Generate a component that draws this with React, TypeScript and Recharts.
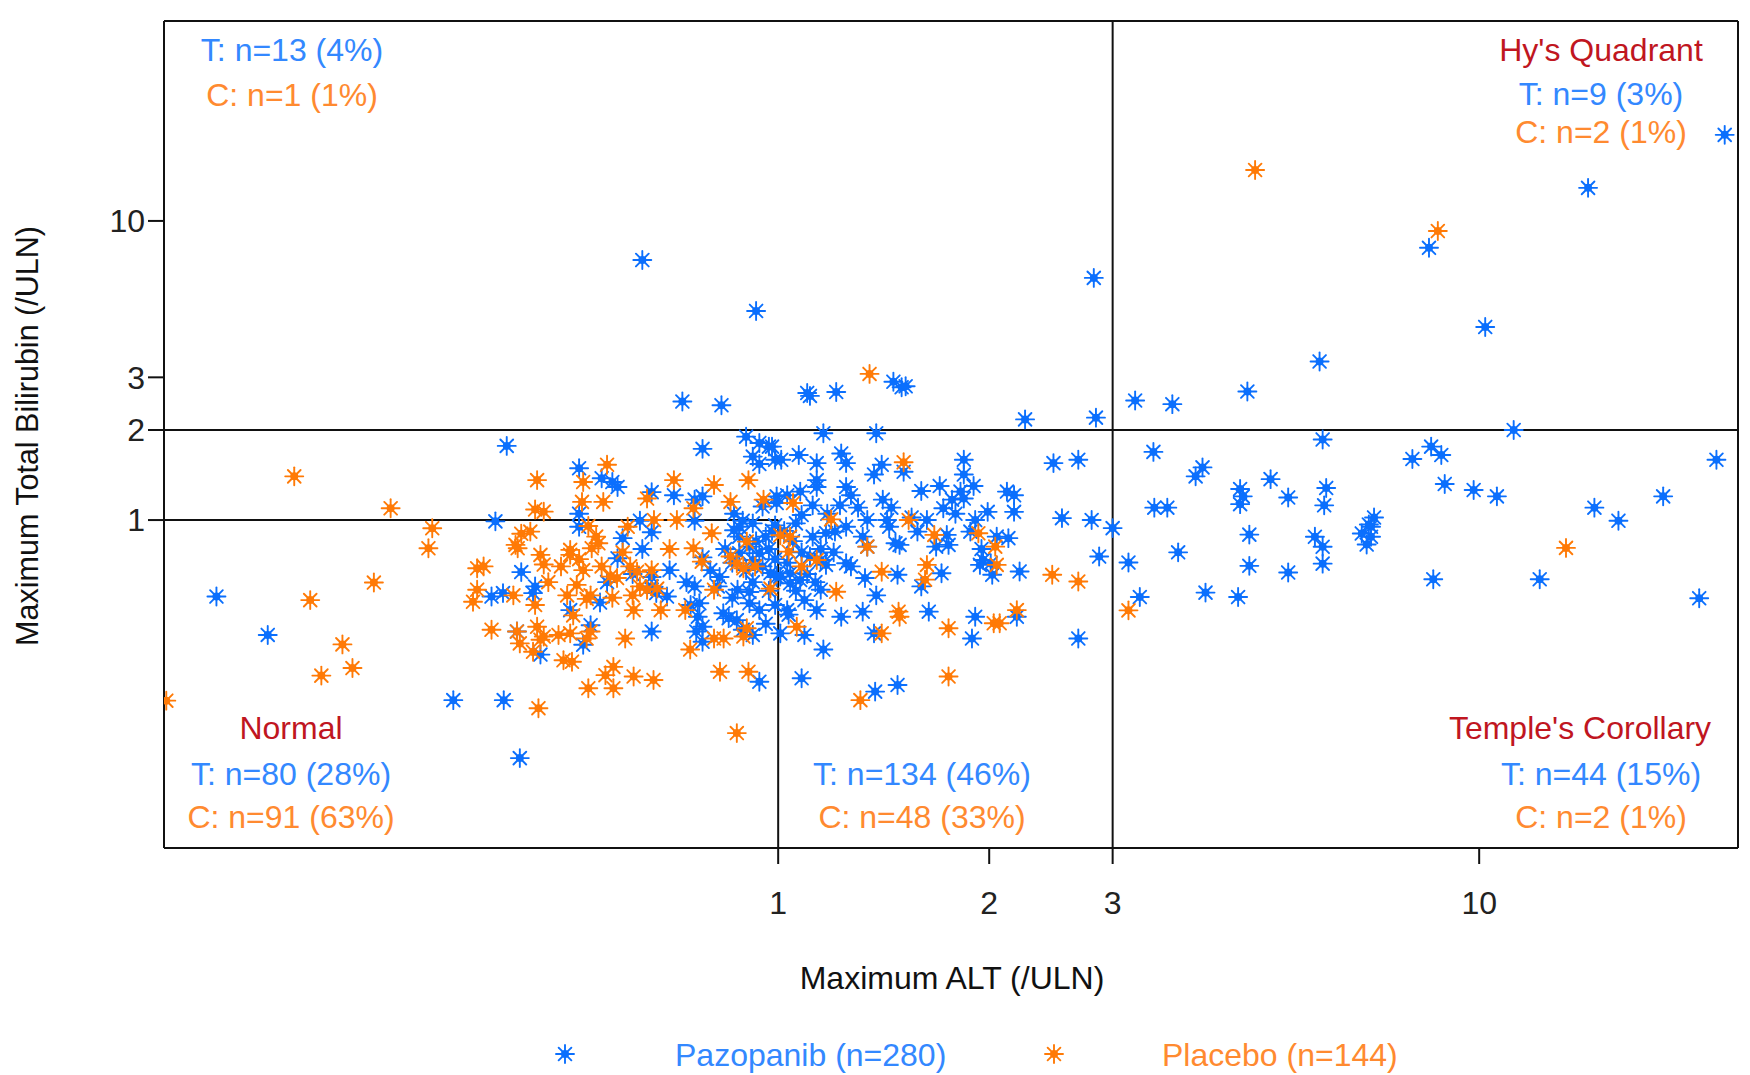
import { ScatterChart, Scatter, XAxis, YAxis, ReferenceLine } from "recharts";

// [max ALT (/ULN), max total bilirubin (/ULN)] per patient
type Point = [number, number];

// Pazopanib, split by the quadrant each patient falls in
const pazopanibUpperLeft: Point[] = [
  [0.64, 7.4], [0.93, 5.0], [2.82, 6.45], [0.73, 2.49], [0.83, 2.42], [1.1, 2.66], [1.11, 2.6],
  [1.21, 2.68], [1.46, 2.9], [1.5, 2.78], [1.52, 2.8], [2.25, 2.17], [2.84, 2.2],
];
const pazopanibHys: Point[] = [
  [8.48, 8.13], [14.3, 12.9], [22.4, 19.4], [10.2, 4.42], [5.92, 3.39], [4.67, 2.69], [3.65, 2.44],
  [3.23, 2.51], [11.2, 2.0],
];
const pazopanibTemple: Point[] = [
  [5.98, 1.86], [3.43, 1.69], [4.03, 1.5], [3.94, 1.4], [5.04, 1.37], [4.56, 1.27], [4.56, 1.13],
  [5.34, 1.19], [6.05, 1.28], [6.01, 1.12], [3.44, 1.1], [3.59, 1.1], [4.7, 0.894], [3.72, 0.78],
  [4.7, 0.703], [5.34, 0.668], [5.98, 0.715], [5.83, 0.879], [5.98, 0.814], [7.08, 1.02], [7.01, 0.95],
  [6.8, 0.902], [7.01, 0.879], [6.91, 0.828], [4.07, 0.572], [4.53, 0.553], [8.03, 1.6], [8.54, 1.76],
  [8.83, 1.65], [8.93, 1.32], [9.82, 1.26], [10.6, 1.2], [8.6, 0.634], [12.2, 0.634], [14.6, 1.1],
  [15.8, 0.995], [18.3, 1.2], [21.8, 1.59], [20.6, 0.548], [3.16, 0.721], [3.28, 0.553], [3.0, 0.94],
  [6.96, 0.966], [4.6, 1.2],
];
const pazopanibNormal: Point[] = [
  [0.395, 0.99], [0.52, 0.95], [0.6, 0.87], [0.64, 0.8], [0.66, 0.91], [0.59, 0.745], [0.43, 0.67],
  [0.45, 0.6], [0.447, 0.57], [0.405, 0.57], [0.39, 0.555], [0.89, 0.995], [0.92, 0.975], [0.88, 0.95],
  [0.865, 0.925], [0.91, 0.815], [0.94, 0.775], [0.92, 0.735], [0.88, 0.775], [0.975, 0.665],
  [0.995, 0.645], [0.825, 0.645], [0.76, 0.6], [0.875, 0.585], [0.91, 0.575], [0.66, 0.645],
  [0.635, 0.995], [0.76, 0.995],
  [0.505, 0.5], [0.557, 0.53], [0.54, 0.445], [0.527, 0.383], [0.458, 0.355], [0.424, 0.424],
  [0.66, 0.424], [0.772, 0.527], [0.768, 0.475], [0.78, 0.44], [0.764, 0.424], [0.78, 0.392],
  [0.835, 0.488], [0.873, 0.463], [0.91, 0.527], [0.92, 0.413], [0.94, 0.288], [0.344, 0.25],
  [0.406, 0.25], [0.428, 0.16], [0.67, 0.57], [0.694, 0.555],
  [0.158, 0.555], [0.187, 0.413],
  [0.96, 0.88], [0.98, 0.92], [0.93, 0.85], [0.97, 0.8], [0.99, 0.74], [0.95, 0.7], [0.9, 0.68],
  [0.86, 0.72], [0.84, 0.8], [0.88, 0.88], [0.92, 0.62], [0.97, 0.58], [0.99, 0.52], [0.94, 0.5],
  [0.86, 0.55], [0.82, 0.6], [0.8, 0.68], [0.78, 0.75], [0.85, 0.47], [0.89, 0.43], [0.96, 0.45],
  [0.74, 0.62], [0.7, 0.68], [0.66, 0.6], [0.62, 0.66], [0.57, 0.62], [0.75, 0.52], [0.99, 0.96],
];
const pazopanibMiddle: Point[] = [
  [0.41, 1.77], [0.78, 1.73], [0.9, 1.9], [0.94, 1.81], [0.97, 1.76], [0.92, 1.63], [0.94, 1.54],
  [0.99, 1.59], [0.52, 1.49], [0.56, 1.38], [0.58, 1.34], [0.59, 1.29], [0.66, 1.24], [0.71, 1.21],
  [0.76, 1.17], [0.78, 1.2], [0.52, 1.05], [0.865, 1.05], [0.95, 1.11], [0.995, 1.2],
  [1.16, 1.95], [1.38, 1.95], [0.98, 1.76], [1.01, 1.59], [1.07, 1.65], [1.135, 1.55], [1.135, 1.36],
  [1.135, 1.29], [1.23, 1.67], [1.25, 1.55], [1.405, 1.53], [1.37, 1.42], [1.51, 1.45], [1.84, 1.59],
  [1.84, 1.42], [2.47, 1.55], [2.68, 1.59], [1.25, 1.29], [1.27, 1.21], [1.225, 1.12], [1.075, 1.245],
  [1.03, 1.21], [0.995, 1.14], [1.41, 1.17], [1.82, 1.245], [1.77, 1.17], [1.84, 1.18], [1.72, 1.095],
  [1.79, 1.05], [2.12, 1.245], [2.17, 1.21], [1.99, 1.065], [2.17, 1.065], [1.34, 1.0], [1.43, 1.0],
  [1.44, 0.95], [1.63, 1.0], [1.58, 0.915], [2.54, 1.015], [2.8, 1.0], [1.175, 1.05], [1.08, 1.04],
  [1.06, 0.975], [1.205, 0.915], [1.17, 0.905], [1.32, 0.88], [1.34, 0.815], [1.47, 0.836],
  [1.49, 0.826], [1.74, 0.892], [1.75, 0.826], [1.68, 0.815], [1.91, 1.0], [1.88, 0.915], [2.13, 0.87],
  [2.87, 0.755], [1.96, 0.735], [2.01, 0.717], [1.94, 0.708], [2.02, 0.656], [2.21, 0.673],
  [1.71, 0.664], [1.48, 0.656], [1.33, 0.64], [1.25, 0.717], [1.27, 0.7], [1.15, 0.735], [1.11, 0.755],
  [1.17, 0.708], [1.04, 0.664], [1.007, 0.647], [1.075, 0.63], [1.04, 0.615], [1.15, 0.585],
  [1.38, 0.56], [1.6, 0.6],
  [1.09, 0.54], [1.03, 0.5], [1.035, 0.483], [1.135, 0.5], [1.23, 0.475], [1.32, 0.494], [1.64, 0.494],
  [1.91, 0.475], [2.19, 0.475], [1.007, 0.418], [1.09, 0.413], [1.37, 0.418], [1.89, 0.402],
  [2.68, 0.402], [1.16, 0.369], [1.08, 0.296], [1.48, 0.281], [1.375, 0.267],
  [1.02, 0.92], [1.05, 0.85], [1.08, 0.78], [1.03, 0.72], [1.12, 0.88], [1.15, 0.8], [1.1, 0.66],
  [1.2, 0.78], [1.06, 0.58], [1.13, 0.62], [1.25, 0.95], [1.3, 1.1], [1.45, 1.1], [1.6, 1.25],
  [1.7, 1.3], [1.9, 1.3], [1.95, 0.8], [2.05, 0.88], [1.55, 1.02], [1.12, 1.12],
];

// Placebo, same split
const placeboUpperLeft: Point[] = [[1.35, 3.08]];
const placeboHys: Point[] = [[4.79, 14.8], [8.73, 9.25]];
const placeboTemple: Point[] = [[13.3, 0.807], [3.16, 0.499]];
const placeboNormal: Point[] = [
  [0.61, 0.95], [0.536, 0.955], [0.43, 0.9], [0.443, 0.915], [0.804, 0.903], [0.422, 0.826],
  [0.425, 0.805], [0.554, 0.836], [0.542, 0.805], [0.505, 0.795], [0.505, 0.765], [0.458, 0.765],
  [0.463, 0.71], [0.757, 0.805], [0.778, 0.726], [0.527, 0.68], [0.855, 0.755], [0.873, 0.717],
  [0.892, 0.69], [0.902, 0.847], [0.927, 0.7], [0.615, 0.7], [0.629, 0.672], [0.589, 0.64],
  [0.576, 0.647], [0.372, 0.69], [0.38, 0.7], [0.372, 0.585], [0.516, 0.607], [0.635, 0.6],
  [0.672, 0.59], [0.65, 0.585], [0.975, 0.59], [0.81, 0.585], [0.5, 0.56], [0.54, 0.56], [0.419, 0.56],
  [0.367, 0.533], [0.533, 0.545], [0.622, 0.5], [0.68, 0.5], [0.737, 0.5], [0.39, 0.43], [0.424, 0.424],
  [0.428, 0.387], [0.453, 0.44], [0.463, 0.408], [0.458, 0.398], [0.486, 0.413], [0.505, 0.418],
  [0.533, 0.402], [0.54, 0.424], [0.447, 0.363], [0.494, 0.34], [0.508, 0.336], [0.605, 0.402],
  [0.749, 0.369], [0.81, 0.402], [0.836, 0.402], [0.892, 0.408], [0.902, 0.435], [0.582, 0.323],
  [0.567, 0.303], [0.582, 0.274], [0.536, 0.274], [0.622, 0.3], [0.664, 0.292], [0.826, 0.311],
  [0.907, 0.311], [0.455, 0.235], [0.873, 0.194],
  [0.321, 0.939], [0.317, 0.805], [0.265, 0.618], [0.215, 0.54], [0.239, 0.384], [0.247, 0.32],
  [0.223, 0.302], [0.134, 0.249],
  [0.47, 0.62], [0.49, 0.7], [0.52, 0.74], [0.56, 0.7], [0.6, 0.78], [0.45, 0.52], [0.51, 0.48],
  [0.58, 0.55], [0.62, 0.56], [0.66, 0.68], [0.7, 0.8], [0.55, 0.88],
];
const placeboMiddle: Point[] = [
  [0.57, 1.53], [0.453, 1.36], [0.527, 1.34], [0.71, 1.36], [0.81, 1.31], [0.907, 1.36], [0.525, 1.15],
  [0.563, 1.15], [0.65, 1.18], [0.855, 1.15], [0.953, 1.17], [0.757, 1.095], [0.45, 1.085],
  [0.463, 1.067], [0.665, 1.0], [0.717, 1.0],
  [1.51, 1.56], [1.05, 1.14], [1.19, 1.005], [1.535, 1.0], [1.67, 0.892], [1.93, 0.903], [1.34, 0.815],
  [2.04, 0.815], [2.05, 0.708], [1.63, 0.708], [1.62, 0.632], [1.405, 0.672], [1.08, 0.7],
  [1.135, 0.735], [2.46, 0.656], [2.68, 0.623], [1.04, 0.88], [1.007, 0.89], [1.035, 0.784],
  [1.21, 0.576],
  [1.485, 0.494], [1.49, 0.475], [1.063, 0.44], [1.405, 0.418], [1.75, 0.435], [2.03, 0.452],
  [2.07, 0.452], [2.19, 0.5], [1.75, 0.3], [1.31, 0.25],
  [0.204, 1.4], [0.28, 1.095],
];

const ALT_TICKS = [1, 2, 3, 10];
const BILI_TICKS = [1, 2, 3, 10];
const ALT_DOMAIN: [number, number] = [0.133, 23.4];
const BILI_DOMAIN: [number, number] = [0.0801, 46.6];

const upperLeftText = ["T: n=13 (4%)", "C: n=1 (1%)"];
const hysText = ["Hy's Quadrant", "T: n=9 (3%)", "C: n=2 (1%)"];
const normalText = ["Normal", "T: n=80 (28%)", "C: n=91 (63%)"];
const middleText = ["T: n=134 (46%)", "C: n=48 (33%)"];
const templeText = ["Temple's Corollary", "T: n=44 (15%)", "C: n=2 (1%)"];
const seriesNames = ["Pazopanib (n=280)", "Placebo (n=144)"];

const BLUE = "#0b6ffd";
const ORANGE = "#ff7a06";
const BLUE_TEXT = "#3388ff";
const ORANGE_TEXT = "#ff8a30";
const RED_TEXT = "#c0161f";
const INK = "#111";
const FONT = "'Liberation Sans', Arial, sans-serif";

const toRows = (pts: Point[]) => pts.map(([alt, bili]) => ({ alt, bili }));

const pazopanib = toRows([
  ...pazopanibNormal, ...pazopanibMiddle, ...pazopanibUpperLeft, ...pazopanibHys, ...pazopanibTemple,
]);
const placebo = toRows([
  ...placeboNormal, ...placeboMiddle, ...placeboUpperLeft, ...placeboHys, ...placeboTemple,
]);

// eight-spoke asterisk with a solid hub
function Asterisk({ cx, cy, color }: { cx?: number; cy?: number; color: string }) {
  if (cx == null || cy == null) return null;
  const r = 9;
  const d = r * 0.7071;
  return (
    <g stroke={color} strokeWidth={1.9} strokeLinecap="round">
      <line x1={cx - r} y1={cy} x2={cx + r} y2={cy} />
      <line x1={cx} y1={cy - r} x2={cx} y2={cy + r} />
      <line x1={cx - d} y1={cy - d} x2={cx + d} y2={cy + d} />
      <line x1={cx - d} y1={cy + d} x2={cx + d} y2={cy - d} />
      <circle cx={cx} cy={cy} r={4} fill={color} stroke="none" />
    </g>
  );
}

const axisStroke = { stroke: INK, strokeWidth: 2 };
const tickStyle = { fill: "#222", fontSize: 32, fontFamily: FONT };

export default function App() {
  return (
    <div style={{ position: "absolute", left: 0, top: 0, width: 1750, height: 1075, background: "#fff" }}>
      <ScatterChart width={1750} height={1075} margin={{ top: 0, right: 0, bottom: 0, left: 0 }}>
        <XAxis
          xAxisId={0}
          dataKey="alt"
          type="number"
          scale="log"
          domain={ALT_DOMAIN}
          allowDataOverflow
          ticks={ALT_TICKS}
          interval={0}
          height={227}
          tickSize={16}
          tickMargin={27}
          tick={tickStyle}
          axisLine={axisStroke}
          tickLine={axisStroke}
        />
        <XAxis
          xAxisId="top"
          orientation="top"
          type="number"
          scale="log"
          domain={ALT_DOMAIN}
          allowDataOverflow
          ticks={ALT_TICKS}
          interval={0}
          height={21}
          tickSize={16}
          tick={false}
          axisLine={axisStroke}
          tickLine={axisStroke}
        />
        <YAxis
          yAxisId={0}
          dataKey="bili"
          type="number"
          scale="log"
          domain={BILI_DOMAIN}
          allowDataOverflow
          ticks={BILI_TICKS}
          interval={0}
          width={164}
          tickSize={16}
          tickMargin={3}
          tick={tickStyle}
          axisLine={axisStroke}
          tickLine={axisStroke}
        />
        <YAxis
          yAxisId="right"
          orientation="right"
          type="number"
          scale="log"
          domain={BILI_DOMAIN}
          allowDataOverflow
          ticks={BILI_TICKS}
          interval={0}
          width={12}
          tickSize={12}
          tick={false}
          axisLine={axisStroke}
          tickLine={axisStroke}
        />

        <ReferenceLine y={2} stroke={INK} strokeWidth={2} ifOverflow="visible" />
        <ReferenceLine x={3} stroke={INK} strokeWidth={2} ifOverflow="visible" />
        <ReferenceLine
          segment={[{ x: ALT_DOMAIN[0], y: 1 }, { x: 1, y: 1 }]}
          stroke={INK}
          strokeWidth={2}
          ifOverflow="visible"
        />
        <ReferenceLine
          segment={[{ x: 1, y: 1 }, { x: 1, y: BILI_DOMAIN[0] }]}
          stroke={INK}
          strokeWidth={2}
          ifOverflow="visible"
        />

        <Scatter
          name={seriesNames[0]}
          data={pazopanib}
          isAnimationActive={false}
          shape={(p: any) => <Asterisk cx={p.cx} cy={p.cy} color={BLUE} />}
        />
        <Scatter
          name={seriesNames[1]}
          data={placebo}
          isAnimationActive={false}
          shape={(p: any) => <Asterisk cx={p.cx} cy={p.cy} color={ORANGE} />}
        />
      </ScatterChart>

      {/* quadrant counts, axis titles and legend */}
      <svg
        width={1750}
        height={1075}
        style={{ position: "absolute", left: 0, top: 0, pointerEvents: "none" }}
        fontFamily={FONT}
        fontSize={32}
        textAnchor="middle"
      >
        <text x={292} y={61} fill={BLUE_TEXT}>{upperLeftText[0]}</text>
        <text x={292} y={106} fill={ORANGE_TEXT}>{upperLeftText[1]}</text>

        <text x={1601} y={61} fill={RED_TEXT}>{hysText[0]}</text>
        <text x={1601} y={105} fill={BLUE_TEXT}>{hysText[1]}</text>
        <text x={1601} y={143} fill={ORANGE_TEXT}>{hysText[2]}</text>

        <text x={291} y={739} fill={RED_TEXT}>{normalText[0]}</text>
        <text x={291} y={785} fill={BLUE_TEXT}>{normalText[1]}</text>
        <text x={291} y={828} fill={ORANGE_TEXT}>{normalText[2]}</text>

        <text x={922} y={785} fill={BLUE_TEXT}>{middleText[0]}</text>
        <text x={922} y={828} fill={ORANGE_TEXT}>{middleText[1]}</text>

        <text x={1580} y={739} fill={RED_TEXT}>{templeText[0]}</text>
        <text x={1601} y={785} fill={BLUE_TEXT}>{templeText[1]}</text>
        <text x={1601} y={828} fill={ORANGE_TEXT}>{templeText[2]}</text>

        <text x={952} y={989} fill="#111">Maximum ALT (/ULN)</text>
        <text transform="translate(38,436) rotate(-90)" fill="#111" fontSize={30.5}>
          Maximum Total Bilirubin (/ULN)
        </text>

        <Asterisk cx={565} cy={1054} color={BLUE} />
        <text x={675} y={1066} fill={BLUE_TEXT} textAnchor="start">{seriesNames[0]}</text>
        <Asterisk cx={1054} cy={1054} color={ORANGE} />
        <text x={1162} y={1066} fill={ORANGE_TEXT} textAnchor="start">{seriesNames[1]}</text>
      </svg>
    </div>
  );
}
